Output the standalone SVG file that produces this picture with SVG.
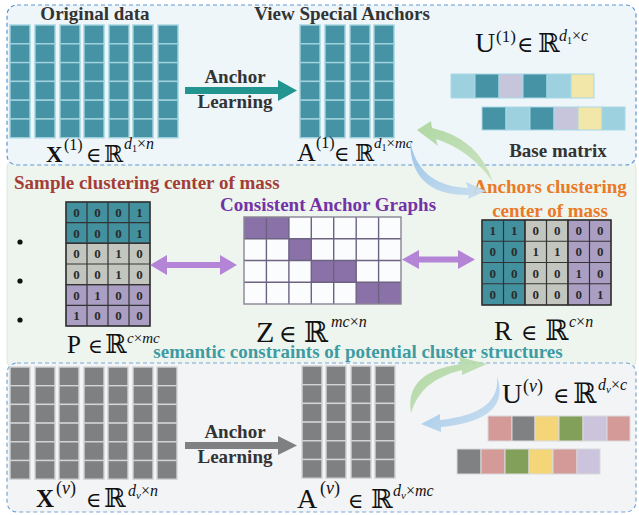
<svg xmlns="http://www.w3.org/2000/svg" xmlns:xlink="http://www.w3.org/1999/xlink" width="639" height="515" viewBox="0 0 639 515">
<style>
.t{font-family:"Liberation Serif","DejaVu Serif",serif;font-weight:bold;font-size:19px}
.m{font-family:"Liberation Serif","DejaVu Serif",serif}
.rr{font-family:"DejaVu Serif","Liberation Serif",serif}
.i{font-style:italic}
.n{font-family:"Liberation Serif",serif;font-weight:bold;font-size:13px;fill:#2a2a2a;text-anchor:middle}
.tc{fill:#4793a6;stroke:#a2d3df;stroke-width:1.4}
.gc{fill:#7f8081;stroke:#d3d4d5;stroke-width:1.4}
.pg{stroke:#333;stroke-width:1.2}
.zg{stroke:#6c6282;stroke-width:1.4}
</style>
<defs>
<g id="colT">
<rect class="tc" x="0" y="0" width="20" height="18.8"/>
<rect class="tc" x="0" y="18.8" width="20" height="18.8"/>
<rect class="tc" x="0" y="37.6" width="20" height="18.8"/>
<rect class="tc" x="0" y="56.4" width="20" height="18.8"/>
<rect class="tc" x="0" y="75.2" width="20" height="18.8"/>
<rect class="tc" x="0" y="94" width="20" height="18.8"/>
</g>
<g id="colG">
<rect class="gc" x="0" y="0" width="20" height="18.7"/>
<rect class="gc" x="0" y="18.7" width="20" height="18.7"/>
<rect class="gc" x="0" y="37.4" width="20" height="18.7"/>
<rect class="gc" x="0" y="56.1" width="20" height="18.7"/>
<rect class="gc" x="0" y="74.8" width="20" height="18.7"/>
<rect class="gc" x="0" y="93.5" width="20" height="18.7"/>
</g>
<linearGradient id="gG" x1="0" y1="0" x2="1" y2="1">
<stop offset="0" stop-color="#a9d49a"/><stop offset="1" stop-color="#c8e2bc"/>
</linearGradient>
<linearGradient id="gB" x1="0" y1="0" x2="1" y2="1">
<stop offset="0" stop-color="#93c0e6"/><stop offset="1" stop-color="#c9def0"/>
</linearGradient>
</defs>

<rect x="0" y="0" width="639" height="515" fill="#ffffff"/>

<!-- panels -->
<g id="panels">
<rect x="7" y="158" width="629" height="212" rx="10" fill="#eef5ef" stroke="#dde8de" stroke-width="1"/>
<rect x="7" y="5" width="629" height="160" rx="10" fill="#eef6fa" stroke="#5f95d4" stroke-width="1.2" stroke-dasharray="4,3"/>
<rect x="7" y="363" width="629" height="149" rx="10" fill="#f2f4f6" stroke="#7aa6d8" stroke-width="1.2" stroke-dasharray="4,3"/>
</g>

<!-- Top view -->
<g id="X1">
<text class="t" x="95" y="20" text-anchor="middle" fill="#333">Original data</text>
<use xlink:href="#colT" x="10" y="25"/>
<use xlink:href="#colT" x="35" y="25"/>
<use xlink:href="#colT" x="60" y="25"/>
<use xlink:href="#colT" x="84" y="25"/>
<use xlink:href="#colT" x="109" y="25"/>
<use xlink:href="#colT" x="133" y="25"/>
<use xlink:href="#colT" x="158" y="25"/>
<text class="m" fill="#111"><tspan x="46" y="162" font-weight="bold" font-size="23">X</tspan><tspan x="64" y="150" font-size="16">(1)</tspan><tspan x="86" y="162" font-size="21">∈</tspan><tspan class="rr" x="104" y="162" font-size="23">ℝ</tspan><tspan x="124" y="149" font-size="16" class="i">d</tspan><tspan font-size="10" dy="3">1</tspan><tspan font-size="16" dy="-3">×</tspan><tspan font-size="16" class="i">n</tspan></text>
</g>

<g id="A1">
<text class="t" x="342" y="20" text-anchor="middle" fill="#333">View Special Anchors</text>
<use xlink:href="#colT" x="300" y="25"/>
<use xlink:href="#colT" x="325" y="25"/>
<use xlink:href="#colT" x="350" y="25"/>
<use xlink:href="#colT" x="374" y="25"/>
<text class="m" fill="#111"><tspan x="297" y="161" font-size="26">A</tspan><tspan x="316" y="148" font-size="16">(1)</tspan><tspan x="334" y="161" font-size="21">∈</tspan><tspan class="rr" x="355" y="161" font-size="23">ℝ</tspan><tspan x="374" y="148" font-size="15" class="i">d</tspan><tspan font-size="10" dy="3">1</tspan><tspan font-size="15" dy="-3">×</tspan><tspan font-size="15" class="i">mc</tspan></text>
</g>

<g id="U1">
<text class="m" fill="#111"><tspan x="475" y="52" font-size="28">U</tspan><tspan x="496" y="42" font-size="17">(1)</tspan><tspan x="517" y="52" font-size="22">∈</tspan><tspan class="rr" x="538" y="52" font-size="26">ℝ</tspan><tspan x="559" y="41" font-size="16" class="i">d</tspan><tspan font-size="10" dy="3">1</tspan><tspan font-size="16" dy="-3">×</tspan><tspan font-size="16" class="i">c</tspan></text>
<g stroke="#a8d8e4" stroke-width="1">
<rect x="451" y="74" width="24" height="24" fill="#9dd1df"/>
<rect x="475" y="74" width="24" height="24" fill="#4693a6"/>
<rect x="499" y="74" width="24" height="24" fill="#c6c5dc"/>
<rect x="523" y="74" width="24" height="24" fill="#4693a6"/>
<rect x="547" y="74" width="24" height="24" fill="#9dd1df"/>
<rect x="571" y="74" width="23" height="24" fill="#f2e6a8"/>
<rect x="482" y="107" width="24" height="23" fill="#4693a6"/>
<rect x="506" y="107" width="24" height="23" fill="#9dd1df"/>
<rect x="530" y="107" width="24" height="23" fill="#4693a6"/>
<rect x="554" y="107" width="24" height="23" fill="#c6c5dc"/>
<rect x="578" y="107" width="24" height="23" fill="#f2e6a8"/>
<rect x="602" y="107" width="23" height="23" fill="#9dd1df"/>
</g>
<text class="t" x="558" y="157" text-anchor="middle" fill="#333">Base matrix</text>
</g>

<!-- Middle -->
<g id="P">
<text class="t" x="14" y="189" fill="#a33e36">Sample clustering center of mass</text>
<g class="pg">
<rect x="66" y="202" width="84" height="41.3" fill="#43909f"/>
<rect x="66" y="243.3" width="84" height="41.3" fill="#c3c6bf"/>
<rect x="66" y="284.6" width="84" height="41.4" fill="#aa9fc3"/>
<path fill="none" d="M87,202V326M108,202V326M129,202V326M66,222.7H150M66,243.3H150M66,264H150M66,284.6H150M66,305.3H150"/>
<rect x="66" y="202" width="84" height="124" fill="none"/>
</g>
<g>
<text class="n" x="76.5" y="217">0</text><text class="n" x="97.5" y="217">0</text><text class="n" x="118.5" y="217">0</text><text class="n" x="139.5" y="217">1</text>
<text class="n" x="76.5" y="237.7">0</text><text class="n" x="97.5" y="237.7">0</text><text class="n" x="118.5" y="237.7">0</text><text class="n" x="139.5" y="237.7">1</text>
<text class="n" x="76.5" y="258.3">0</text><text class="n" x="97.5" y="258.3">0</text><text class="n" x="118.5" y="258.3">1</text><text class="n" x="139.5" y="258.3">0</text>
<text class="n" x="76.5" y="279">0</text><text class="n" x="97.5" y="279">0</text><text class="n" x="118.5" y="279">1</text><text class="n" x="139.5" y="279">0</text>
<text class="n" x="76.5" y="299.6">0</text><text class="n" x="97.5" y="299.6">1</text><text class="n" x="118.5" y="299.6">0</text><text class="n" x="139.5" y="299.6">0</text>
<text class="n" x="76.5" y="320.3">1</text><text class="n" x="97.5" y="320.3">0</text><text class="n" x="118.5" y="320.3">0</text><text class="n" x="139.5" y="320.3">0</text>
</g>
<circle cx="20" cy="242" r="2.6" fill="#111"/>
<circle cx="20" cy="281" r="2.6" fill="#111"/>
<circle cx="20" cy="320" r="2.6" fill="#111"/>
<text class="m" fill="#111"><tspan x="67" y="353" font-size="25">P</tspan><tspan x="88" y="353" font-size="20">∈</tspan><tspan class="rr" x="105" y="353" font-size="26">ℝ</tspan><tspan x="127" y="343" font-size="15" class="i">c</tspan><tspan font-size="15">×</tspan><tspan font-size="15" class="i">mc</tspan></text>
</g>

<g id="Z">
<text class="t" x="328" y="211" text-anchor="middle" fill="#7333a6">Consistent Anchor Graphs</text>
<rect x="244" y="217" width="157" height="87" fill="#fbfcfd"/>
<g fill="#8a72a8">
<rect x="244" y="217" width="44.9" height="21.75"/>
<rect x="288.9" y="238.75" width="22.4" height="21.75"/>
<rect x="311.3" y="260.5" width="44.9" height="21.75"/>
<rect x="356.2" y="282.25" width="44.8" height="21.75"/>
</g>
<g class="zg" fill="none">
<path d="M266.4,217V304M288.9,217V304M311.3,217V304M333.7,217V304M356.2,217V304M378.6,217V304M244,238.75H401M244,260.5H401M244,282.25H401"/>
<rect x="244" y="217" width="157" height="87" stroke="#8a8496"/>
</g>
<text class="m" fill="#111"><tspan x="256" y="342" font-size="30">Z</tspan><tspan x="279" y="342" font-size="24">∈</tspan><tspan class="rr" x="304" y="342" font-size="29">ℝ</tspan><tspan x="331" y="327" font-size="16" class="i">mc</tspan><tspan font-size="16">×</tspan><tspan font-size="16" class="i">n</tspan></text>
</g>

<g id="R">
<text class="t" x="550" y="193" text-anchor="middle" fill="#ea7a26">Anchors clustering</text>
<text class="t" x="550" y="217" text-anchor="middle" fill="#ea7a26">center of mass</text>
<g class="pg">
<rect x="482" y="220" width="43" height="85" fill="#43909f"/>
<rect x="525" y="220" width="43" height="85" fill="#c3c6bf"/>
<rect x="568" y="220" width="43" height="85" fill="#aa9fc3"/>
<path fill="none" d="M503.5,220V305M525,220V305M546.5,220V305M568,220V305M589.5,220V305M482,241.25H611M482,262.5H611M482,283.75H611"/>
<rect x="482" y="220" width="129" height="85" fill="none"/>
</g>
<g>
<text class="n" x="492.75" y="235">1</text><text class="n" x="514.25" y="235">1</text><text class="n" x="535.75" y="235">0</text><text class="n" x="557.25" y="235">0</text><text class="n" x="578.75" y="235">0</text><text class="n" x="600.25" y="235">0</text>
<text class="n" x="492.75" y="256.25">0</text><text class="n" x="514.25" y="256.25">0</text><text class="n" x="535.75" y="256.25">1</text><text class="n" x="557.25" y="256.25">1</text><text class="n" x="578.75" y="256.25">0</text><text class="n" x="600.25" y="256.25">0</text>
<text class="n" x="492.75" y="277.5">0</text><text class="n" x="514.25" y="277.5">0</text><text class="n" x="535.75" y="277.5">0</text><text class="n" x="557.25" y="277.5">0</text><text class="n" x="578.75" y="277.5">1</text><text class="n" x="600.25" y="277.5">0</text>
<text class="n" x="492.75" y="298.75">0</text><text class="n" x="514.25" y="298.75">0</text><text class="n" x="535.75" y="298.75">0</text><text class="n" x="557.25" y="298.75">0</text><text class="n" x="578.75" y="298.75">0</text><text class="n" x="600.25" y="298.75">1</text>
</g>
<text class="m" fill="#111"><tspan x="494" y="340" font-size="27">R</tspan><tspan x="521" y="340" font-size="22">∈</tspan><tspan class="rr" x="545" y="340" font-size="28">ℝ</tspan><tspan x="569" y="327" font-size="16" class="i">c</tspan><tspan font-size="16">×</tspan><tspan font-size="16" class="i">n</tspan></text>
</g>

<text class="t" x="358" y="358" text-anchor="middle" fill="#3e9ba2">semantic constraints of potential cluster structures</text>

<!-- Bottom view -->
<g id="Xv">
<use xlink:href="#colG" x="10" y="367"/>
<use xlink:href="#colG" x="35" y="367"/>
<use xlink:href="#colG" x="59" y="367"/>
<use xlink:href="#colG" x="84" y="367"/>
<use xlink:href="#colG" x="108" y="367"/>
<use xlink:href="#colG" x="133" y="367"/>
<use xlink:href="#colG" x="157" y="367"/>
<text class="m" fill="#111"><tspan x="36" y="507" font-weight="bold" font-size="25">X</tspan><tspan x="56" y="494" font-size="18">(</tspan><tspan font-size="18" class="i">v</tspan><tspan font-size="18">)</tspan><tspan x="86" y="507" font-size="21">∈</tspan><tspan class="rr" x="104" y="507" font-size="26">ℝ</tspan><tspan x="128" y="496" font-size="16" class="i">d</tspan><tspan font-size="11" dy="3" class="i">v</tspan><tspan font-size="16" dy="-3">×</tspan><tspan font-size="16" class="i">n</tspan></text>
</g>

<g id="Av">
<use xlink:href="#colG" x="302" y="366"/>
<use xlink:href="#colG" x="326" y="366"/>
<use xlink:href="#colG" x="351" y="366"/>
<use xlink:href="#colG" x="375" y="366"/>
<text class="m" fill="#111"><tspan x="297" y="508" font-size="28">A</tspan><tspan x="320" y="494" font-size="18">(</tspan><tspan font-size="18" class="i">v</tspan><tspan font-size="18">)</tspan><tspan x="348" y="508" font-size="21">∈</tspan><tspan class="rr" x="371" y="508" font-size="26">ℝ</tspan><tspan x="393" y="496" font-size="16" class="i">d</tspan><tspan font-size="11" dy="3" class="i">v</tspan><tspan font-size="16" dy="-3">×</tspan><tspan font-size="16" class="i">mc</tspan></text>
</g>

<g id="Uv">
<text class="m" fill="#111"><tspan x="502" y="403" font-size="28">U</tspan><tspan x="523" y="392" font-size="18">(</tspan><tspan font-size="18" class="i">v</tspan><tspan font-size="18">)</tspan><tspan x="553" y="403" font-size="22">∈</tspan><tspan class="rr" x="573" y="403" font-size="28">ℝ</tspan><tspan x="598" y="390" font-size="16" class="i">d</tspan><tspan font-size="11" dy="3" class="i">v</tspan><tspan font-size="16" dy="-3">×</tspan><tspan font-size="16" class="i">c</tspan></text>
<g stroke="#d9dadb" stroke-width="1">
<rect x="488" y="416" width="24" height="25" fill="#d49a98"/>
<rect x="512" y="416" width="23" height="25" fill="#808182"/>
<rect x="535" y="416" width="24" height="25" fill="#f4d679"/>
<rect x="559" y="416" width="24" height="25" fill="#83a05a"/>
<rect x="583" y="416" width="24" height="25" fill="#cbc4dc"/>
<rect x="607" y="416" width="23" height="25" fill="#d49a98"/>
<rect x="457" y="449" width="24" height="25" fill="#808182"/>
<rect x="481" y="449" width="24" height="25" fill="#d49a98"/>
<rect x="505" y="449" width="24" height="25" fill="#83a05a"/>
<rect x="529" y="449" width="24" height="25" fill="#f4d679"/>
<rect x="553" y="449" width="24" height="25" fill="#d49a98"/>
<rect x="577" y="449" width="23" height="25" fill="#cbc4dc"/>
</g>
</g>

<!-- connectors -->
<g id="connectors">
<path d="M185,87 L278,87 L278,80 L297,90.5 L278,101 L278,94 L185,94 Z" fill="#239590"/>
<text class="t" x="235" y="83" text-anchor="middle" fill="#333">Anchor</text>
<text class="t" x="235" y="108" text-anchor="middle" fill="#333">Learning</text>
<path d="M185,442 L278,442 L278,436 L297,445.5 L278,455 L278,449 L185,449 Z" fill="#7f8081"/>
<text class="t" x="235" y="438" text-anchor="middle" fill="#333">Anchor</text>
<text class="t" x="235" y="463" text-anchor="middle" fill="#333">Learning</text>

<path d="M150,265 L167,255 L167,262 L220,262 L220,255 L237,265 L220,275 L220,268 L167,268 L167,275 Z" fill="#b484d6"/>
<path d="M402,259.5 L419,250 L419,256.5 L458,256.5 L458,250 L475,259.5 L458,269 L458,262.5 L419,262.5 L419,269 Z" fill="#b484d6"/>

<path d="M417,130 L431,121 L432,128 Q478,138 493,182 Q470,150 436,139 L438,146 Z" fill="url(#gG)" opacity="0.9"/>
<path d="M410,140 Q418,186 468,188 L466,182 L486,191 L468,199 L469,195 Q410,196 410,140 Z" fill="url(#gB)" opacity="0.9"/>

<path d="M411,413 Q404,372 461,364 L459,357 L487,364 L462,375 L462,370 Q420,380 411,413 Z" fill="url(#gG)" opacity="0.9"/>
<path d="M497,376 Q501,414 440,420 L440,414 L421,424 L441,432 L441,427 Q512,420 497,376 Z" fill="url(#gB)" opacity="0.9"/>
</g>
</svg>
